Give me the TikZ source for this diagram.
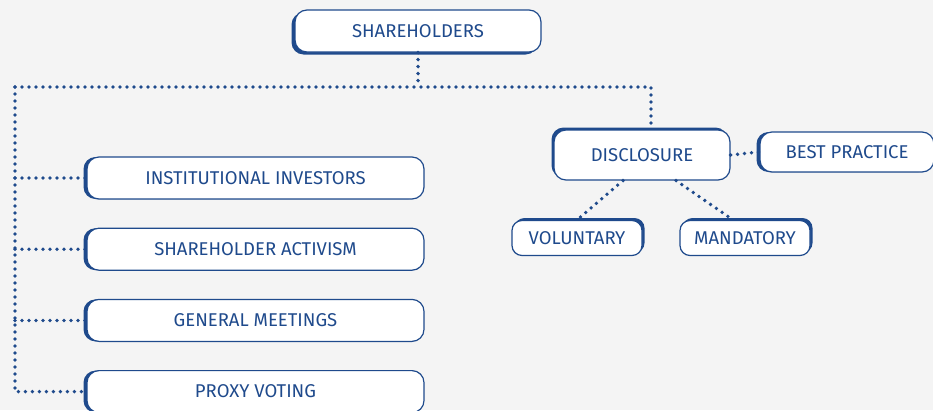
\documentclass[tikz,border=0pt]{standalone}
\usepackage{fontspec}
\setmainfont{Fira Sans}
\usetikzlibrary{positioning,shadows}
\definecolor{govblue}{HTML}{1F4A8C}
\definecolor{pagebg}{HTML}{F4F4F4}
\tikzset{
    govbox/.style={
        draw=govblue, line width=1.2pt, fill=white, rounded corners=12pt,
        text=govblue, inner sep=0pt, font=\fontsize{18.5}{22}\selectfont
    },
    widebox/.style={govbox, minimum width=337pt, minimum height=42pt},
    smallbox/.style={govbox, rounded corners=10pt, minimum width=130pt, minimum height=35pt},
    thickedge/.style 2 args={
        drop shadow={shadow xshift=#1, shadow yshift=#2, fill=govblue, opacity=1}
    },
    dottedlink/.style={
        draw=govblue, line width=3.8pt, line cap=round, dash pattern=on 0pt off 7pt
    }
}

\begin{document}
\begin{tikzpicture}[x=1pt, y=-1pt]

	\useasboundingbox[fill=pagebg] (0,0) rectangle (933,410);

		% top of the tree
		\node[govbox, thickedge={-3.5pt}{-2.5pt}, minimum width=246pt, minimum height=42pt] (share) at (418,31) {SHAREHOLDERS};

		% left column
		\node[widebox, thickedge={-3.5pt}{0pt}] (inst) at (255.5,178) {INSTITUTIONAL INVESTORS};
		\node[widebox, thickedge={-3.5pt}{0pt}, below=28pt of inst] (activism) {SHAREHOLDER ACTIVISM};
		\node[widebox, thickedge={-3.5pt}{0pt}, below=28pt of activism] (meetings) {GENERAL MEETINGS};
		\node[widebox, thickedge={-3.5pt}{0pt}, below=28pt of meetings] (proxy) {PROXY VOTING};

		% disclosure branch
		\node[govbox, thickedge={-2.5pt}{2.5pt}, minimum width=176pt, minimum height=50pt] (disc) at (642,155) {DISCLOSURE};
		\node[govbox, thickedge={-3.5pt}{0pt}, minimum width=174pt, minimum height=40pt] (best) at (847,152) {BEST PRACTICE};
		\node[smallbox, thickedge={2.5pt}{2.5pt}] (vol) at (577,238) {VOLUNTARY};
		\node[smallbox, thickedge={2.5pt}{2.5pt}] (mand) at (745,238) {MANDATORY};

	\coordinate (spine) at (15,87);

		\draw[dottedlink] (share.south) -- (share.south |- spine);
		\draw[dottedlink] (spine) -- ([xshift=9pt]disc.north |- spine) -- ([xshift=9pt]disc.north);
		\draw[dottedlink] (spine) |- (proxy.west);
		\foreach \n in {inst, activism, meetings}
			\draw[dottedlink] (spine |- \n.west) -- (\n.west);

		\draw[dottedlink] (disc.east) -- (best.west);
		\draw[dottedlink] ([xshift=-19pt]disc.south) -- (vol.north);
		\draw[dottedlink] ([xshift=34pt]disc.south) -- ([xshift=-12pt]mand.north);

\end{tikzpicture}
\end{document}
